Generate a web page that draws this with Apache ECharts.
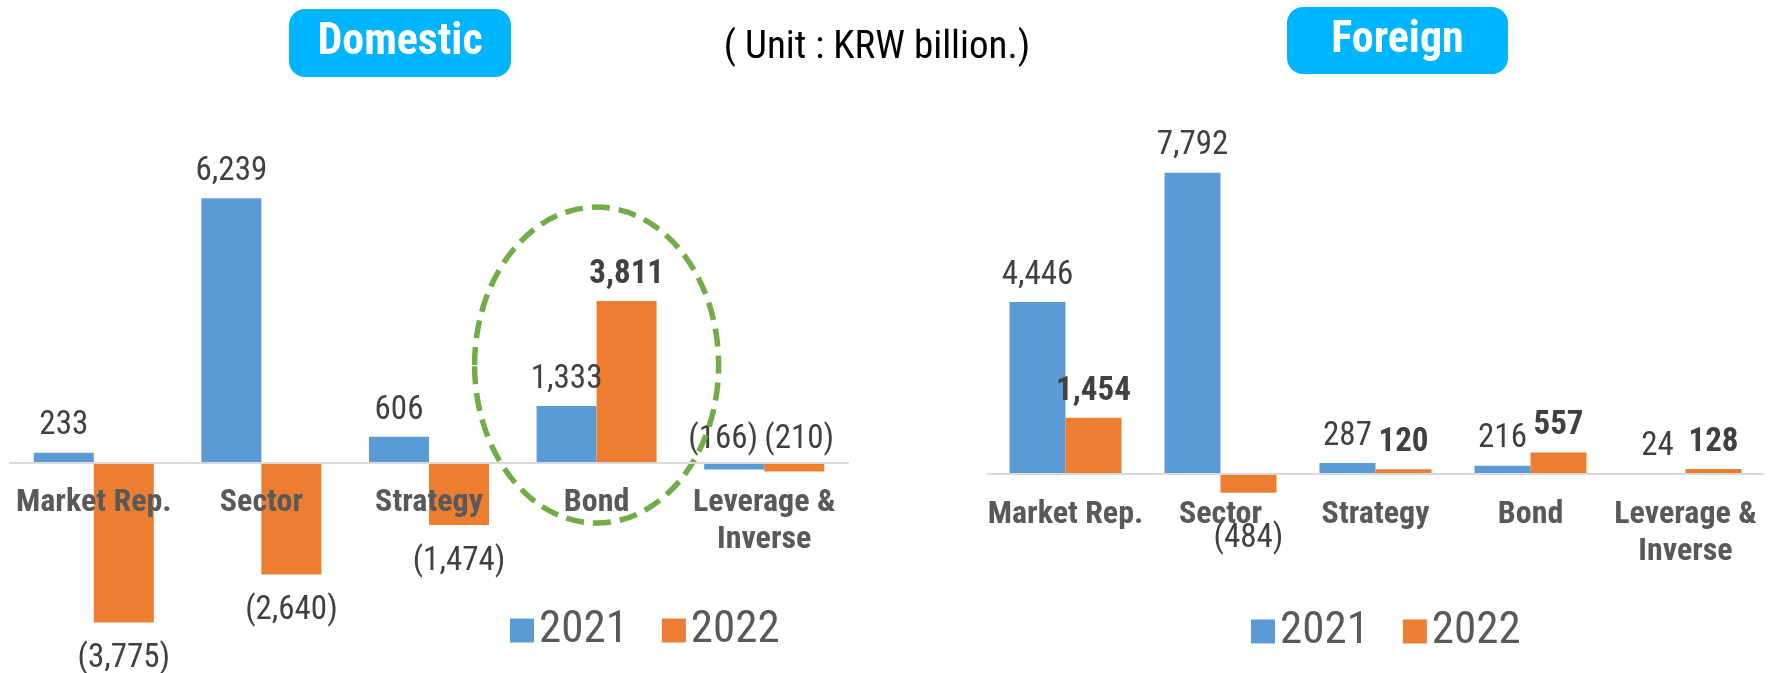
<!DOCTYPE html>
<html>
<head>
<meta charset="utf-8">
<script src="https://cdn.jsdelivr.net/npm/echarts@6/dist/echarts.min.js"></script>
<style>
  html, body { margin: 0; padding: 0; background: #fff; }
  #main { width: 1769px; height: 673px; }
</style>
</head>
<body>
<div id="main"></div>
<script>
// values in KRW billion
const categories = ['Market Rep.', 'Sector', 'Strategy', 'Bond', 'Leverage &\nInverse'];
const years = ['2021', '2022'];
const domestic2021 = [233, 6239, 606, 1333, -166];
const domestic2022 = [-3775, -2640, -1474, 3811, -210];
const foreign2021 = [4446, 7792, 287, 216, 24];
const foreign2022 = [1454, -484, 120, 557, 128];

const FONT = "'Liberation Sans Narrow', 'Roboto Condensed', Roboto, sans-serif";
const BLUE = '#5B9BD5';
const ORANGE = '#ED7D31';

function fmt(v) {
  var s = Math.abs(v).toLocaleString('en-US');
  return v < 0 ? '(' + s + ')' : s;
}

// bar items, positive labels above, negatives below the bar
function makeData(values, boldPositive, special) {
  return values.map(function (v, i) {
    var label = v >= 0
      ? { position: 'top', distance: 10, fontWeight: boldPositive ? 'bold' : 'normal' }
      : { position: 'bottom', distance: 20, fontWeight: 'normal' };
    if (special && special[i]) Object.assign(label, special[i]);
    return { value: v, label: label };
  });
}

function barSeries(name, values, color, axisIdx, width, bold, special) {
  return {
    name: name,
    type: 'bar',
    xAxisIndex: axisIdx,
    yAxisIndex: axisIdx,
    barWidth: width,
    barGap: '0%',
    itemStyle: { color: color },
    label: {
      show: true,
      fontFamily: FONT,
      fontSize: 33,
      color: '#404040',
      formatter: function (p) { return fmt(p.value); }
    },
    data: makeData(values, bold, special)
  };
}

// axis moved up from the grid bottom onto the zero line, labels go with it
function catAxis(gridIndex, offset) {
  return {
    type: 'category',
    gridIndex: gridIndex,
    data: categories,
    offset: offset,
    z: 10,
    axisTick: { show: false },
    axisLine: { onZero: false, lineStyle: { color: '#D9D9D9', width: 2 } },
    axisLabel: {
      interval: 0,
      margin: 22,
      fontFamily: FONT,
      fontSize: 32,
      fontWeight: 'bold',
      color: '#595959',
      lineHeight: 37
    }
  };
}

function badge(x, y, w, h, text) {
  return {
    type: 'group',
    left: x,
    top: y,
    children: [
      { type: 'rect', shape: { x: 0, y: 0, width: w, height: h, r: 16 }, style: { fill: '#00B5FF' } },
      { type: 'text', x: w / 2, y: h / 2,
        style: { text: text, fill: '#fff', font: 'bold 44px ' + FONT, align: 'center', verticalAlign: 'middle' } }
    ]
  };
}

var chart = echarts.init(document.getElementById('main'));

var option = {
  animation: false,
  grid: [
    { left: 10, top: 166, width: 838, height: 466, outerBoundsMode: 'none' },
    { left: 988, top: 126, width: 775, height: 464, outerBoundsMode: 'none' }
  ],
  // 466 * 4000/11000 = 169.5 ; 464 * 3000/12000 = 116
  xAxis: [catAxis(0, -169.5), catAxis(1, -116)],
  yAxis: [
    { type: 'value', gridIndex: 0, min: -4000, max: 7000, show: false, splitLine: { show: false } },
    { type: 'value', gridIndex: 1, min: -3000, max: 9000, show: false, splitLine: { show: false } }
  ],
  legend: [
    { data: years, left: 505, top: 603, icon: 'rect', itemWidth: 24, itemHeight: 24, itemGap: 34,
      textStyle: { fontFamily: FONT, fontSize: 45, color: '#595959' } },
    { data: years, left: 1246, top: 604, icon: 'rect', itemWidth: 24, itemHeight: 24, itemGap: 34,
      textStyle: { fontFamily: FONT, fontSize: 45, color: '#595959' } }
  ],
  series: [
    barSeries('2021', domestic2021, BLUE, 0, 60, false,
      { 4: { position: 'top', distance: 6, offset: [-11, 0] } }),
    barSeries('2022', domestic2022, ORANGE, 0, 60, true,
      { 4: { position: 'top', distance: 6, offset: [5, 0] } }),
    barSeries('2021', foreign2021, BLUE, 1, 56, false),
    barSeries('2022', foreign2022, ORANGE, 1, 56, true,
      { 1: { distance: 30 } })
  ],
  graphic: [
    badge(289, 9, 222, 68, 'Domestic'),
    badge(1287, 7, 221, 67, 'Foreign'),
    { type: 'text', x: 877, y: 48,
      style: { text: '( Unit : KRW billion.)', fill: '#000', font: '39px ' + FONT, align: 'center', verticalAlign: 'middle' } }
  ]
};
chart.setOption(option);

// dashed ring around the domestic Bond pair
var c = chart.convertToPixel({ xAxisIndex: 0, yAxisIndex: 0 }, ['Bond', 2300]);
chart.setOption({
  graphic: option.graphic.concat([{
    type: 'ellipse',
    shape: { cx: c[0], cy: c[1], rx: 122, ry: 158 },
    style: { fill: 'none', stroke: '#70AD47', lineWidth: 5.5, lineDash: [18, 9] },
    z: 10
  }])
});
</script>
</body>
</html>
